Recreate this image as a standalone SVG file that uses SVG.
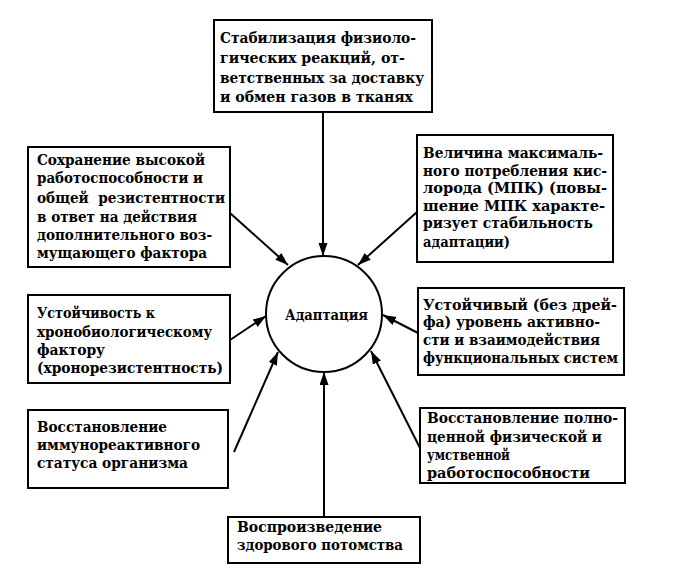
<svg xmlns="http://www.w3.org/2000/svg" width="679" height="575" viewBox="0 0 679 575">
<style>
.box{fill:#fff;stroke:#000;stroke-width:2}
.t{font-family:"DejaVu Serif","Liberation Serif",serif;font-weight:bold;font-size:14px;fill:#000}
.c{fill:none;stroke:#000;stroke-width:2;marker-end:url(#ah)}
</style>
<defs>
<marker id="ah" markerUnits="userSpaceOnUse" markerWidth="14" markerHeight="10" refX="13" refY="4.5" orient="auto">
<path d="M0,0 L13,4.5 L0,9 z" fill="#000"/>
</marker>
</defs>
<rect width="679" height="575" fill="#fff"/>
<g id="connectors">
<line class="c" x1="323" y1="112" x2="323" y2="256"/>
<line class="c" x1="230" y1="213" x2="288" y2="265"/>
<line class="c" x1="417" y1="212" x2="358" y2="265"/>
<line class="c" x1="230" y1="340" x2="266" y2="316"/>
<line class="c" x1="418" y1="333" x2="383" y2="315"/>
<line class="c" x1="234" y1="452" x2="278" y2="352"/>
<line class="c" x1="420" y1="448" x2="371" y2="351"/>
<line class="c" x1="324" y1="517" x2="324" y2="372"/>
</g>
<g id="center">
<circle cx="324" cy="314" r="58" fill="#fff" stroke="#000" stroke-width="2"/>
<text class="t" x="285" y="320" textLength="83" lengthAdjust="spacingAndGlyphs">Адаптация</text>
</g>
<g id="top">
<rect class="box" x="214" y="20" width="218" height="92"/>
<text class="t" x="220" y="43" textLength="196" lengthAdjust="spacingAndGlyphs">Стабилизация физиоло-</text>
<text class="t" x="220" y="63" textLength="185" lengthAdjust="spacingAndGlyphs">гических реакций, от-</text>
<text class="t" x="220" y="83" textLength="204" lengthAdjust="spacingAndGlyphs">ветственных за доставку</text>
<text class="t" x="220" y="102" textLength="193" lengthAdjust="spacingAndGlyphs">и обмен газов в тканях</text>
</g>
<g id="left1">
<rect class="box" x="28" y="147" width="202" height="120"/>
<text class="t" x="37" y="165" textLength="168" lengthAdjust="spacingAndGlyphs">Сохранение высокой</text>
<text class="t" x="37" y="183" textLength="166" lengthAdjust="spacingAndGlyphs">работоспособности и</text>
<text class="t" x="37" y="203" textLength="188" lengthAdjust="spacingAndGlyphs" xml:space="preserve">общей  резистентности</text>
<text class="t" x="37" y="222" textLength="160" lengthAdjust="spacingAndGlyphs">в ответ на действия</text>
<text class="t" x="37" y="240" textLength="175" lengthAdjust="spacingAndGlyphs">дополнительного воз-</text>
<text class="t" x="37" y="258" textLength="170" lengthAdjust="spacingAndGlyphs">мущающего фактора</text>
</g>
<g id="right1">
<rect class="box" x="417" y="135" width="196" height="127"/>
<text class="t" x="423" y="158" textLength="180" lengthAdjust="spacingAndGlyphs">Величина максималь-</text>
<text class="t" x="423" y="176" textLength="184" lengthAdjust="spacingAndGlyphs">ного потребления кис-</text>
<text class="t" x="423" y="193" textLength="184" lengthAdjust="spacingAndGlyphs">лорода (МПК) (повы-</text>
<text class="t" x="423" y="211" textLength="182" lengthAdjust="spacingAndGlyphs">шение МПК характе-</text>
<text class="t" x="423" y="228" textLength="170" lengthAdjust="spacingAndGlyphs">ризует стабильность</text>
<text class="t" x="423" y="247" textLength="87" lengthAdjust="spacingAndGlyphs">адаптации)</text>
</g>
<g id="left2">
<rect class="box" x="28" y="295" width="202" height="88"/>
<text class="t" x="37" y="318" textLength="118" lengthAdjust="spacingAndGlyphs">Устойчивость к</text>
<text class="t" x="37" y="337" textLength="175" lengthAdjust="spacingAndGlyphs">хронобиологическому</text>
<text class="t" x="37" y="355" textLength="68" lengthAdjust="spacingAndGlyphs">фактору</text>
<text class="t" x="37" y="373" textLength="186" lengthAdjust="spacingAndGlyphs">(хронорезистентность)</text>
</g>
<g id="right2">
<rect class="box" x="418" y="288" width="206" height="87"/>
<text class="t" x="423" y="310" textLength="194" lengthAdjust="spacingAndGlyphs">Устойчивый (без дрей-</text>
<text class="t" x="423" y="327" textLength="177" lengthAdjust="spacingAndGlyphs">фа) уровень активно-</text>
<text class="t" x="423" y="345" textLength="177" lengthAdjust="spacingAndGlyphs">сти и взаимодействия</text>
<text class="t" x="423" y="363" textLength="195" lengthAdjust="spacingAndGlyphs">функциональных систем</text>
</g>
<g id="left3">
<rect class="box" x="28" y="410" width="200" height="78"/>
<text class="t" x="37" y="432" textLength="130" lengthAdjust="spacingAndGlyphs">Восстановление</text>
<text class="t" x="37" y="450" textLength="163" lengthAdjust="spacingAndGlyphs">иммунореактивного</text>
<text class="t" x="37" y="468" textLength="151" lengthAdjust="spacingAndGlyphs">статуса организма</text>
</g>
<g id="right3">
<rect class="box" x="420" y="408" width="205" height="75"/>
<text class="t" x="427" y="423" textLength="191" lengthAdjust="spacingAndGlyphs">Восстановление полно-</text>
<text class="t" x="427" y="442" textLength="175" lengthAdjust="spacingAndGlyphs">ценной физической и</text>
<text class="t" x="427" y="460" textLength="83" lengthAdjust="spacingAndGlyphs">умственной</text>
<text class="t" x="427" y="478" textLength="163" lengthAdjust="spacingAndGlyphs">работоспособности</text>
</g>
<g id="bottom">
<rect class="box" x="228" y="517" width="192" height="46"/>
<text class="t" x="237" y="532" textLength="145" lengthAdjust="spacingAndGlyphs">Воспроизведение</text>
<text class="t" x="237" y="550" textLength="166" lengthAdjust="spacingAndGlyphs">здорового потомства</text>
</g>
</svg>
